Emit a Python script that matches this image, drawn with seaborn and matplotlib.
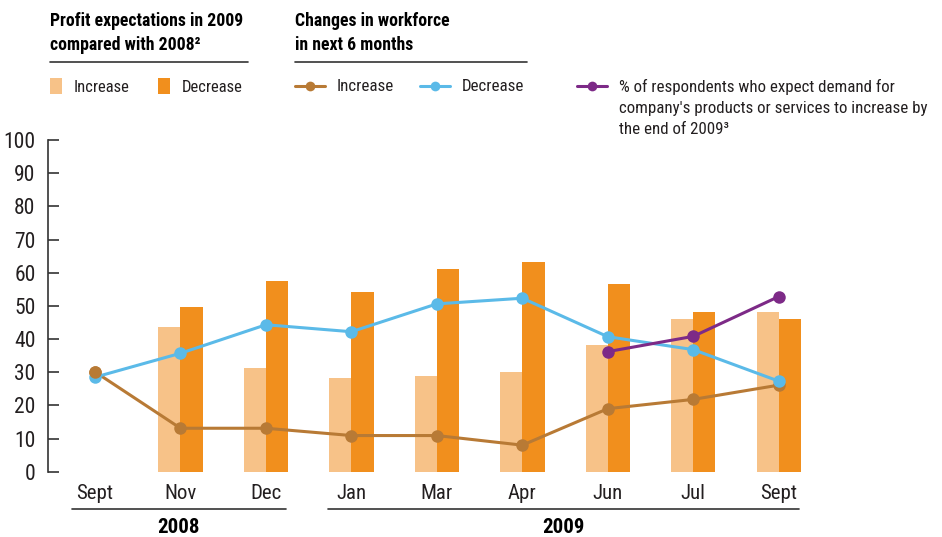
import pandas as pd
import matplotlib.pyplot as plt
import seaborn as sns
from matplotlib import font_manager
from matplotlib.lines import Line2D
from matplotlib.patches import Rectangle
import matplotlib.transforms as mtransforms

# data
months = ["Sept", "Nov", "Dec", "Jan", "Mar", "Apr", "Jun", "Jul", "Sept"]
keys = ["Sept08", "Nov", "Dec", "Jan", "Mar", "Apr", "Jun", "Jul", "Sept09"]
profit_increase = [None, 43.6, 31.3, 28.2, 28.8, 30.0, 38.2, 46.0, 48.1]
profit_decrease = [None, 49.6, 57.4, 54.2, 61.0, 63.2, 56.5, 48.1, 46.0]
workforce_increase = [30.1, 13.1, 13.1, 10.9, 10.9, 8.0, 19.0, 21.8, 26.1]
workforce_decrease = [28.5, 35.7, 44.3, 42.2, 50.6, 52.3, 40.7, 36.8, 27.3]
demand_idx = [6, 7, 8]
demand_increase = [36.2, 40.8, 52.8]
years = ["2008", "2009"]

LIGHT = "#F7C288"
ORANGE = "#F18F1D"
BROWN = "#B87A35"
BLUE = "#5BBAE8"
PURPLE = "#7D2A87"
TXT = "#231F20"

sns.set_style("white")
installed = {f.name for f in font_manager.fontManager.ttflist}
wanted = ["Roboto Condensed", "Liberation Sans Narrow", "Arial Narrow", "Roboto", "Liberation Sans"]
font = [f for f in wanted if f in installed][0]
plt.rcParams["font.family"] = [font, "DejaVu Sans"]

W, H = 942, 537
fig = plt.figure(figsize=(W / 100, H / 100), dpi=100)
ax = fig.add_axes([48 / W, (H - 471.7) / H, (830 - 48) / W, 331.7 / H])

bars = pd.DataFrame({
    "month": keys * 2,
    "value": profit_increase + profit_decrease,
    "kind": ["Increase"] * 9 + ["Decrease"] * 9,
})
sns.barplot(data=bars, x="month", y="value", hue="kind", order=keys,
            hue_order=["Increase", "Decrease"], palette=[LIGHT, ORANGE],
            width=0.52, gap=0, legend=False, ax=ax, saturation=1, linewidth=0)

pos = list(range(len(keys)))
line_kw = dict(marker="o", markersize=9, linewidth=2.2, markeredgewidth=0, ax=ax)
sns.lineplot(x=pos, y=workforce_increase, color=BROWN, **line_kw)
sns.lineplot(x=pos, y=workforce_decrease, color=BLUE, **line_kw)
sns.lineplot(x=demand_idx, y=demand_increase, color=PURPLE, **line_kw)
# Sept 2008: the brown point sits over the blue one
ax.plot([0], [workforce_increase[0]], "o", color=BROWN, ms=9, mew=0)

ax.set_xlim(-0.55, 8.6)
ax.set_ylim(0, 100)
ax.set_yticks(range(0, 101, 10))
ax.set_xticks(pos)
ax.set_xticklabels(months)
ax.set_xlabel("")
ax.set_ylabel("")
for s in ["top", "right", "bottom"]:
    ax.spines[s].set_visible(False)
ax.spines["left"].set_color("#333333")
ax.spines["left"].set_linewidth(1.2)
ax.tick_params(axis="y", direction="in", length=8, width=1.2, color="#333333",
               labelsize=15.5, labelcolor=TXT, pad=9, left=True)
ax.tick_params(axis="x", length=0, labelsize=15, labelcolor=TXT, pad=9)

# year brackets under the month labels
trans = mtransforms.blended_transform_factory(ax.transData, ax.transAxes)
spans = [(-0.27, 2.23), (2.73, 8.24)]
for (a, b), yr in zip(spans, years):
    ax.add_line(Line2D([a, b], [-0.112, -0.112], transform=trans, color="#333333",
                       lw=1.2, clip_on=False))
    ax.text((a + b) / 2, -0.168, yr, transform=trans, ha="center", va="center",
            fontsize=15, fontweight="bold", color="black")

# legend block at the top
def fx(px):
    return px / W

def fy(py):
    return 1 - py / H

fig.text(fx(50), fy(33), "Profit expectations in 2009\ncompared with 2008²",
         fontsize=12.8, fontweight="bold", color="black", va="center", linespacing=1.42)
fig.text(fx(295), fy(33), "Changes in workforce\nin next 6 months",
         fontsize=12.8, fontweight="bold", color="black", va="center", linespacing=1.42)
for a, b in [(50, 248), (295, 527)]:
    fig.add_artist(Line2D([fx(a), fx(b)], [fy(62), fy(62)], color="#333333", lw=1.2))

for x0, c, lab in [(50, LIGHT, "Increase"), (158, ORANGE, "Decrease")]:
    fig.add_artist(Rectangle((fx(x0), fy(94)), 12 / W, 16 / H, color=c, lw=0))
    fig.text(fx(x0 + 24), fy(87), lab, fontsize=12, color=TXT, va="center")

for x0, c, lab in [(295, BROWN, "Increase"), (420, BLUE, "Decrease"),
                   (577, PURPLE, "% of respondents who expect demand for\n"
                                 "company's products or services to increase by\n"
                                 "the end of 2009³")]:
    fig.add_artist(Line2D([fx(x0), fx(x0 + 30)], [fy(86), fy(86)], color=c, lw=2.2))
    fig.add_artist(Line2D([fx(x0 + 15)], [fy(86)], color=c, marker="o",
                          markersize=7, markeredgewidth=0))
    fig.text(fx(x0 + 42), fy(79), lab, fontsize=12.2, color=TXT, va="top",
             linespacing=1.5)

fig.savefig("out.png", dpi=100)
